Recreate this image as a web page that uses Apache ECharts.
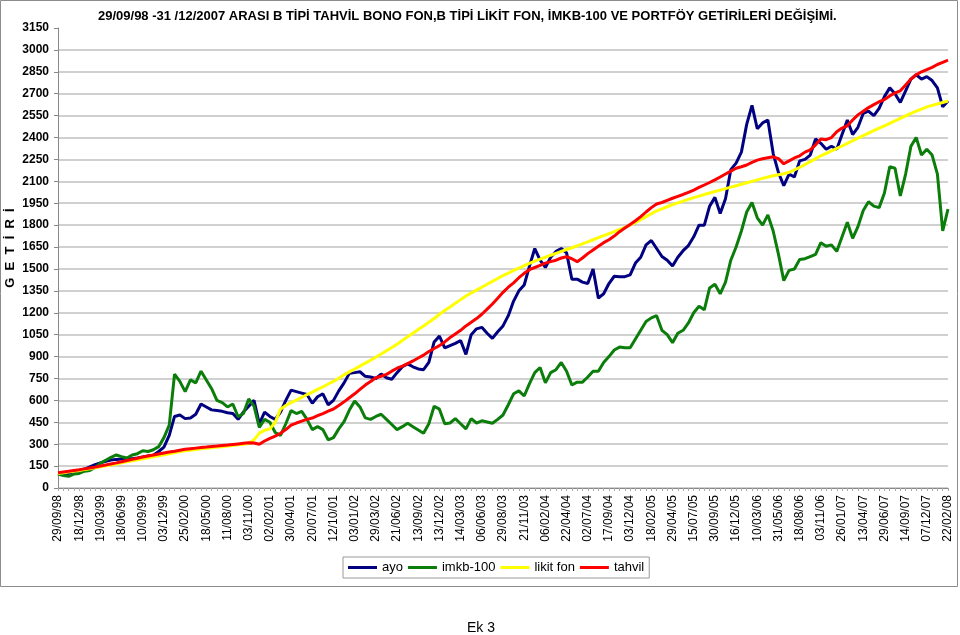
<!DOCTYPE html>
<html>
<head>
<meta charset="utf-8">
<script src="https://cdn.jsdelivr.net/npm/echarts@6/dist/echarts.min.js"></script>
<style>
html,body{margin:0;padding:0;background:#fff;}
#c{width:960px;height:635px;}
</style>
</head>
<body>
<div id="c"></div>
<script>
const dateLabels = ['29/09/98','18/12/98','19/03/99','18/06/99','10/09/99','03/12/99','25/02/00','18/05/00','11/08/00','03/11/00','02/02/01','30/04/01','20/07/01','12/10/01','03/01/02','29/03/02','21/06/02','13/09/02','13/12/02','14/03/03','06/06/03','29/08/03','21/11/03','06/02/04','22/04/04','02/07/04','17/09/04','03/12/04','18/02/05','29/04/05','15/07/05','30/09/05','16/12/05','10/03/06','31/05/06','18/08/06','03/11/06','26/01/07','13/04/07','29/06/07','14/09/07','07/12/07','22/02/08'];

const ayo = [100,95,100,110,120,130,145,160,172,182,
192,196,198,200,201,206,212,219,225,250,
280,360,490,500,475,480,505,575,555,535,
530,525,515,510,470,520,560,600,440,520,
490,470,520,600,670,660,650,640,580,625,
645,570,600,665,720,785,790,796,765,760,
750,780,755,745,790,830,850,830,815,810,
860,1000,1040,960,975,990,1010,915,1050,1090,
1100,1060,1025,1070,1110,1180,1280,1350,1390,1520,
1640,1560,1510,1580,1620,1640,1610,1430,1430,1410,
1400,1500,1300,1330,1400,1450,1447,1447,1460,1540,
1580,1665,1695,1640,1585,1560,1520,1580,1625,1660,
1720,1800,1800,1930,1990,1880,1980,2180,2225,2300,
2490,2620,2460,2500,2520,2290,2160,2070,2150,2130,
2240,2250,2280,2390,2360,2320,2340,2320,2420,2520,
2420,2470,2565,2580,2550,2600,2680,2740,2700,2640,
2720,2800,2830,2800,2817,2790,2740,2610,2650];

const imkb = [95,85,80,95,100,115,120,140,170,190,
210,226,215,205,226,235,255,250,262,283,
345,431,780,730,660,740,720,800,740,680,
600,585,555,575,488,510,610,560,415,470,
450,380,360,440,530,510,525,470,400,420,
400,330,345,405,455,534,595,555,480,470,
490,505,470,435,400,420,443,420,397,375,
440,560,540,440,445,475,440,405,475,445,
460,452,443,470,500,570,645,665,630,715,
790,825,720,790,810,860,800,705,725,725,
760,800,800,860,900,945,965,960,960,1020,
1080,1140,1165,1180,1080,1050,995,1060,1080,1130,
1200,1245,1220,1370,1395,1330,1410,1560,1650,1760,
1890,1955,1850,1800,1870,1760,1600,1420,1490,1500,
1565,1570,1585,1600,1680,1655,1665,1620,1720,1820,
1710,1790,1900,1960,1930,1920,2020,2200,2190,2000,
2150,2340,2400,2280,2320,2280,2150,1760,1910];

const likitFon = [100,105,110,115,120,126,132,138,145,152,
158,165,172,179,186,193,200,207,214,221,
228,235,242,249,255,259,263,268,272,276,
280,283,287,291,296,300,305,330,376,395,
405,450,540,565,585,602,620,640,657,675,
692,712,730,752,775,795,815,835,855,875,
895,918,940,962,985,1010,1035,1060,1085,1110,
1135,1160,1190,1215,1240,1265,1290,1315,1335,1355,
1375,1395,1415,1435,1455,1472,1490,1505,1522,1538,
1553,1567,1580,1594,1607,1620,1633,1645,1658,1672,
1686,1700,1714,1728,1742,1756,1770,1785,1800,1818,
1838,1858,1878,1898,1912,1926,1940,1952,1964,1976,
1988,1999,2010,2020,2030,2040,2050,2060,2070,2080,
2090,2100,2110,2120,2130,2138,2145,2152,2162,2178,
2195,2215,2235,2255,2275,2292,2308,2325,2342,2360,
2378,2396,2413,2430,2447,2464,2480,2497,2514,2531,
2548,2565,2580,2595,2610,2620,2630,2640,2650];

const tahvil = [105,110,114,120,125,131,137,143,150,157,
165,172,180,188,196,204,212,219,226,233,
240,246,252,259,265,269,273,277,280,284,
287,291,294,298,302,306,310,308,300,322,
340,355,375,400,430,445,458,470,479,495,
510,526,541,565,590,618,645,675,705,730,
755,765,778,800,820,835,852,870,890,910,
935,955,975,1000,1030,1055,1080,1110,1135,1160,
1190,1225,1260,1300,1340,1375,1405,1440,1470,1495,
1510,1525,1540,1550,1560,1575,1584,1570,1550,1575,
1605,1630,1655,1680,1700,1725,1755,1780,1805,1830,
1858,1890,1920,1945,1955,1970,1984,1997,2010,2025,
2040,2058,2075,2092,2110,2130,2150,2170,2190,2200,
2212,2230,2245,2255,2262,2268,2255,2220,2240,2260,
2275,2300,2315,2350,2390,2385,2400,2440,2465,2480,
2520,2555,2580,2605,2625,2645,2660,2685,2705,2720,
2760,2800,2830,2850,2865,2880,2900,2915,2930];

const seriesNames = ['ayo','imkb-100','likit fon','tahvil'];
const seriesColors = ['#000080','#0a7d0a','#ffff00','#ff0000'];
const yMin = 0, yMax = 3150, yStep = 150;
const perLabel = 4;

const categories = ayo.map((_, i) => String(i));
const FONT = '"Liberation Sans", Arial, sans-serif';

const chart = echarts.init(document.getElementById('c'), null, {renderer: 'canvas'});
const dataSets = [ayo, imkb, likitFon, tahvil];

chart.setOption({
  animation: false,
  backgroundColor: '#ffffff',
  title: {
    text: '29/09/98 -31 /12/2007 ARASI B TİPİ TAHVİL BONO FON,B TİPİ LİKİT FON, İMKB-100 VE PORTFÖY GETİRİLERİ DEĞİŞİMİ.',
    left: 93, top: 5,
    textStyle: {fontFamily: FONT, fontSize: 13, fontWeight: 'bold', color: '#000'}
  },
  grid: {left: 58, right: 12, top: 28, bottom: 147, containLabel: false, outerBoundsMode: 'none'},
  legend: {
    data: seriesNames,
    left: 343, top: 557,
    padding: [4, 5],
    icon: 'rect',
    itemWidth: 29, itemHeight: 3,
    itemGap: 5,
    borderColor: '#999', borderWidth: 1,
    textStyle: {fontFamily: FONT, fontSize: 13, color: '#000'}
  },
  xAxis: {
    type: 'category',
    data: categories,
    boundaryGap: false,
    axisLine: {lineStyle: {color: '#888', width: 1}},
    axisTick: {show: true, interval: 0, length: 3, lineStyle: {color: '#aaa'}},
    axisLabel: {
      interval: perLabel - 1,
      rotate: 90,
      margin: 7,
      fontFamily: FONT, fontSize: 12, color: '#000',
      formatter: (v, idx) => dateLabels[Math.round(idx / perLabel)] || ''
    },
    splitLine: {show: false}
  },
  yAxis: {
    type: 'value',
    min: yMin, max: yMax, interval: yStep,
    name: 'G  E  T  İ  R  İ',
    nameLocation: 'middle',
    nameGap: 41,
    nameMoveOverlap: false,
    nameRotate: 90,
    nameTextStyle: {fontFamily: FONT, fontSize: 13, fontWeight: 'bold', color: '#000', padding: [0, 0, 0, 20]},
    axisLine: {show: true, lineStyle: {color: '#888', width: 1}},
    axisTick: {show: true, length: 4, lineStyle: {color: '#888'}},
    axisLabel: {fontFamily: FONT, fontSize: 12, fontWeight: 'bold', color: '#000', margin: 9,
      formatter: v => String(v)},
    splitLine: {show: true, showMaxLine: false, lineStyle: {color: '#c0c0c0', width: 1.5}}
  },
  series: dataSets.map((d, k) => ({
    name: seriesNames[k],
    type: 'line',
    data: d,
    symbol: 'none',
    smooth: false,
    color: seriesColors[k],
    lineStyle: {color: seriesColors[k], width: 3},
    z: 2 + k
  })),
  graphic: [
    {type: 'rect', silent: true, z: -1,
     shape: {x: 0.5, y: 0.5, width: 957, height: 586},
     style: {fill: 'none', stroke: '#8c8c8c', lineWidth: 1}},
    {type: 'text', left: 467, top: 621,
     style: {text: 'Ek 3', fontFamily: FONT, fontSize: 14, fill: '#000'}}
  ]
});
</script>
</body>
</html>
